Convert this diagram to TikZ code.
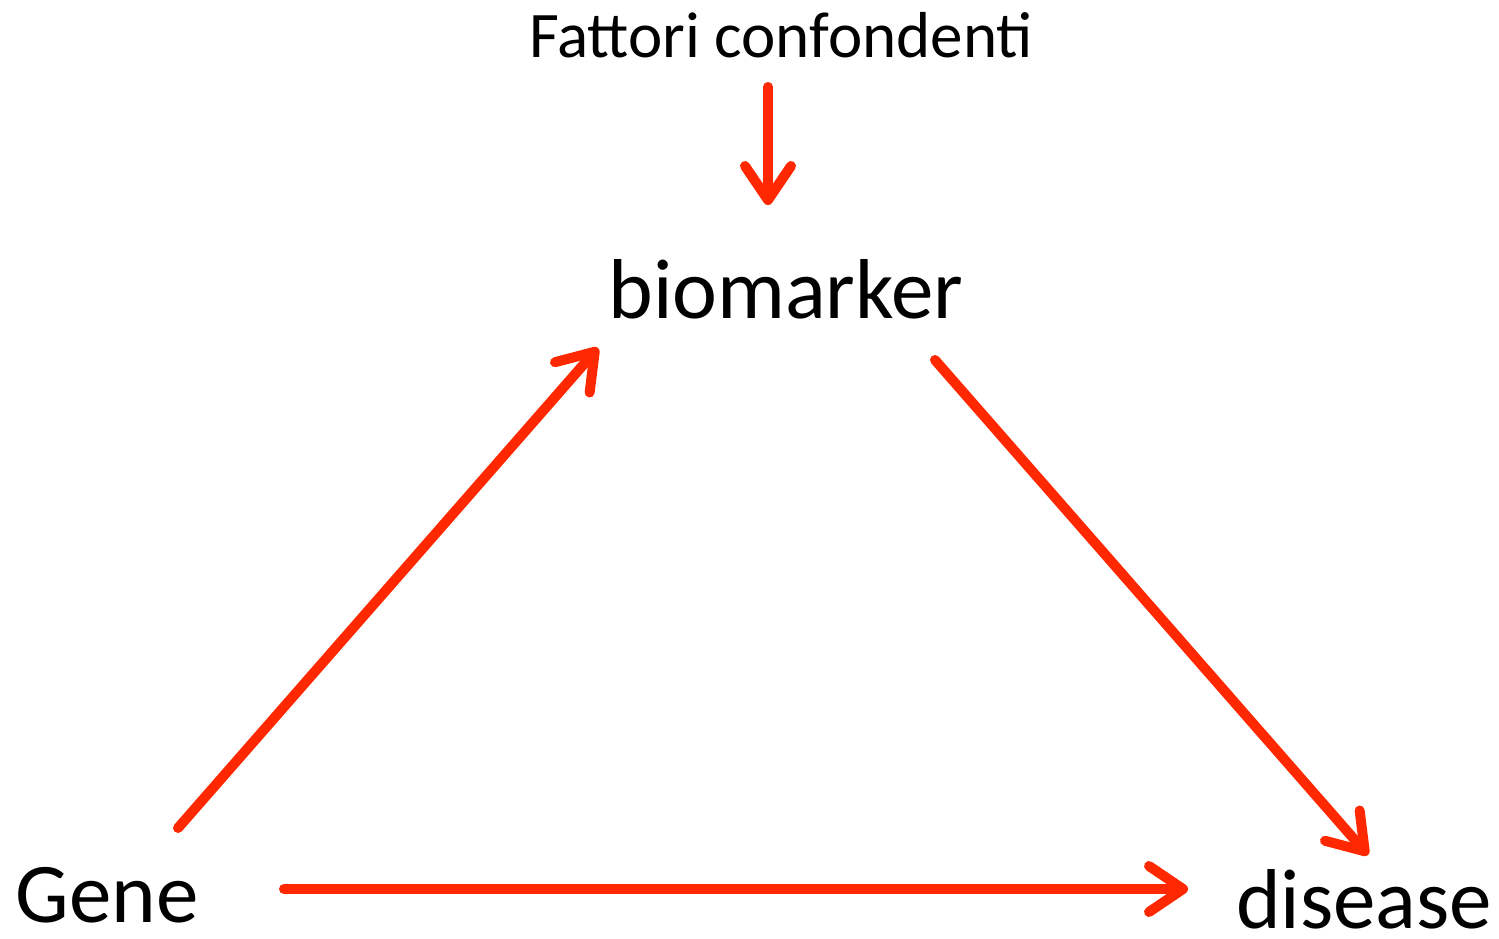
\documentclass[tikz,border=0pt]{standalone}
\usepackage{fontspec}
\setmainfont{Carlito}
\usetikzlibrary{arrows.meta}
\definecolor{rosso}{HTML}{FF2800}

\begin{document}
\begin{tikzpicture}[x=0.5pt, y=-0.5pt]
    % Stili
    \tikzset{
        c_arrow/.style={color=rosso, line width=5pt, line cap=round,
            -{Straight Barb[length=17pt, width=23pt, round]}},
        c_label/.style={anchor=base, inner sep=0pt, text depth=0pt,
            font=\fontsize{42.5}{50}\selectfont},
        c_note/.style={anchor=base, inner sep=0pt, font=\fontsize{32.5}{39}\selectfont}
    }
    \useasboundingbox (0,0) rectangle (1499,938);

    % Nodi
    \node[c_note]  (fattori)   at (781,57)   {Fattori confondenti};
    \node[c_label] (biomarker) at (786,318)  {biomarker};
    \node[c_label] (gene)      at (107,922)  {Gene};
    \node[c_label] (disease)   at (1364,928) {disease};

    % Frecce
    \draw[c_arrow] ([xshift=-6.5pt, yshift=-15pt]fattori.base)
        -- ([xshift=-6.5pt, yshift=-74pt]fattori.base);
    \draw[c_arrow] ([xshift=35.5pt, yshift=47pt]gene.base)
        -- ([xshift=-94pt, yshift=-15pt]biomarker.base);
    \draw[c_arrow] ([xshift=74.5pt, yshift=-21pt]biomarker.base)
        -- ([xshift=2pt, yshift=36.5pt]disease.base);
    \draw[c_arrow] ([xshift=88.5pt, yshift=16.5pt]gene.base)
        -- ([xshift=-88pt, yshift=19.5pt]disease.base);
\end{tikzpicture}
\end{document}
